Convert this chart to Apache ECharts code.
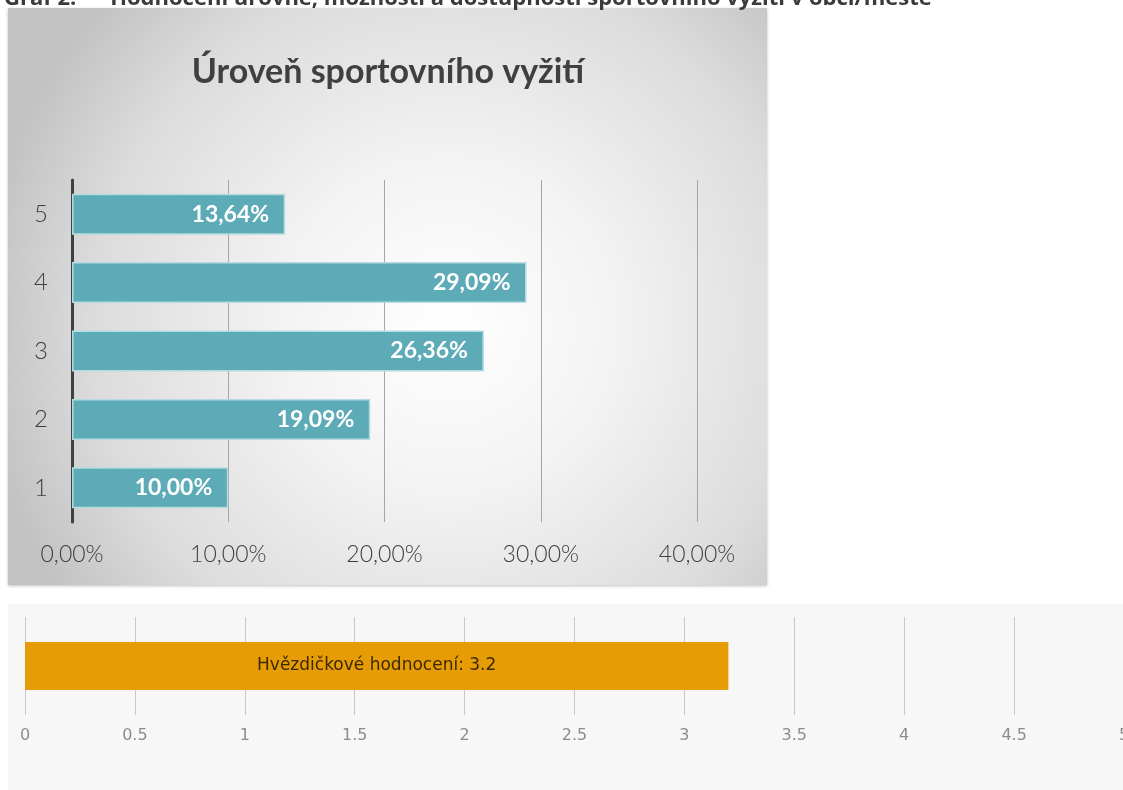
<!DOCTYPE html>
<html>
<head>
<meta charset="utf-8">
<script src="https://cdn.jsdelivr.net/npm/echarts@6/dist/echarts.min.js"></script>
<style>
  html, body { margin: 0; padding: 0; background: #fff; }
  #chart { width: 1123px; height: 790px; }
</style>
</head>
<body>
<div id="chart"></div>
<script>
const headerText = 'Graf 2:  –  Hodnocení úrovně, možnosti a dostupnosti sportovního vyžití v obci/městě';
const levelTitle = 'Úroveň sportovního vyžití';

// top chart: share of answers per level
const levels = ['1', '2', '3', '4', '5'];
const levelShares = [10.0, 19.09, 26.36, 29.09, 13.64];
const shareMax = 40;
const shareStep = 10;

// bottom chart: star rating
const ratingName = 'Hvězdičkové hodnocení';
const ratingValues = [3.2];
const ratingMax = 5;
const ratingStep = 0.5;

const fmtPct = (v) => v.toFixed(2).replace('.', ',') + '%';

const chart = echarts.init(document.getElementById('chart'));

chart.setOption({
  animation: false,
  textStyle: { fontFamily: 'Lato, sans-serif' },
  graphic: [
    {
      type: 'rect',
      z: -10,
      silent: true,
      shape: { x: 8, y: 8, width: 759, height: 577 },
      style: {
        fill: {
          type: 'radial',
          x: 0.58,
          y: 0.55,
          r: 0.82,
          colorStops: [
            { offset: 0, color: '#ffffff' },
            { offset: 0.35, color: '#f3f3f3' },
            { offset: 0.75, color: '#dcdcdc' },
            { offset: 1, color: '#c2c2c2' },
          ],
        },
        shadowBlur: 3,
        shadowOffsetY: 1,
        shadowColor: 'rgba(0,0,0,0.25)',
      },
    },
    {
      type: 'rect',
      z: -10,
      silent: true,
      shape: { x: 8, y: 604, width: 1115, height: 186 },
      style: { fill: '#f7f7f7' },
    },
    {
      type: 'text',
      silent: true,
      x: 4,
      y: 10,
      style: {
        text: headerText,
        fill: '#3a3a3a',
        font: 'bold 22px "Open Sans", sans-serif',
        textVerticalAlign: 'bottom',
      },
    },
    {
      type: 'text',
      silent: true,
      x: 388,
      y: 72,
      style: {
        text: levelTitle,
        fill: '#404040',
        font: 'bold 34px Lato, sans-serif',
        textAlign: 'center',
        textVerticalAlign: 'middle',
      },
    },
  ],
  grid: [
    { left: 72, right: 426, top: 180, bottom: 268, outerBoundsMode: 'none' },
    { left: 25, width: 1099, top: 617, height: 98, outerBoundsMode: 'none' },
  ],
  xAxis: [
    {
      gridIndex: 0,
      type: 'value',
      min: 0,
      max: shareMax,
      interval: shareStep,
      axisLine: { show: false },
      axisTick: { show: false },
      splitLine: { lineStyle: { color: '#a6a6a6', width: 1 } },
      axisLabel: {
        margin: 21,
        color: '#404040',
        fontSize: 23,
        fontWeight: 300,
        fontFamily: 'Lato, sans-serif',
        formatter: (v) => fmtPct(v),
      },
    },
    {
      gridIndex: 1,
      type: 'value',
      min: 0,
      max: ratingMax,
      interval: ratingStep,
      axisLine: { show: false },
      axisTick: { show: false },
      splitLine: { lineStyle: { color: '#c8c8c8', width: 1 } },
      axisLabel: {
        margin: 13,
        color: '#8c8c8c',
        fontSize: 16,
        fontFamily: '"DejaVu Sans", sans-serif',
      },
    },
  ],
  yAxis: [
    {
      gridIndex: 0,
      type: 'category',
      data: levels,
      axisLine: { show: true, lineStyle: { color: '#404040', width: 3 } },
      axisTick: { show: false },
      axisLabel: {
        margin: 24,
        color: '#404040',
        fontSize: 24,
        fontWeight: 300,
        fontFamily: 'Lato, sans-serif',
      },
    },
    {
      gridIndex: 1,
      type: 'category',
      data: [ratingName],
      show: false,
    },
  ],
  series: [
    {
      type: 'bar',
      xAxisIndex: 0,
      yAxisIndex: 0,
      data: levelShares,
      barCategoryGap: '40%',
      itemStyle: {
        color: '#5cabb6',
        borderColor: '#b3dbe0',
        borderWidth: 1.5,
      },
      label: {
        show: true,
        position: 'insideRight',
        distance: 16,
        color: '#ffffff',
        fontSize: 23,
        fontWeight: 'bold',
        fontFamily: 'Lato, sans-serif',
        formatter: (p) => fmtPct(p.value),
      },
    },
    {
      type: 'bar',
      xAxisIndex: 1,
      yAxisIndex: 1,
      data: ratingValues,
      barWidth: 48,
      itemStyle: { color: '#e69d05' },
      label: {
        show: true,
        position: 'inside',
        color: '#3d2800',
        fontSize: 17,
        fontFamily: '"DejaVu Sans", sans-serif',
        formatter: (p) => ratingName + ': ' + p.value,
      },
    },
  ],
});

window.addEventListener('resize', () => chart.resize());
</script>
</body>
</html>
